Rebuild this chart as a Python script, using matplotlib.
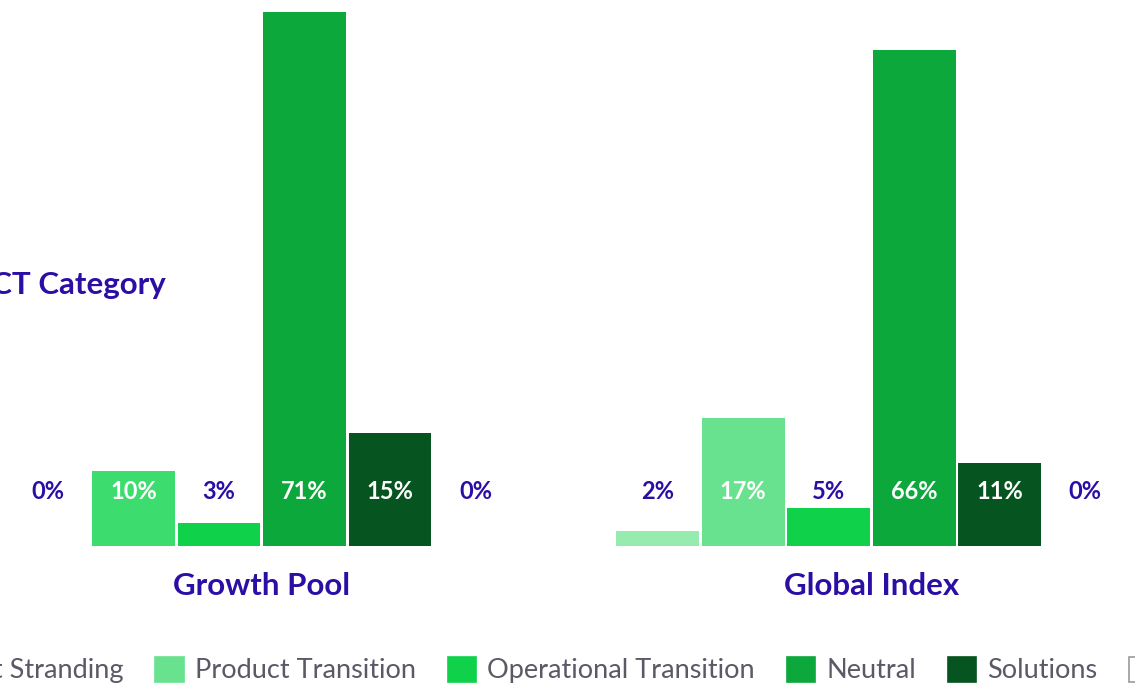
import matplotlib
matplotlib.use("Agg")
import matplotlib.pyplot as plt
from matplotlib.patches import Patch

# ===== data =====
groups = ["Growth Pool", "Global Index"]
categories = ["Asset Stranding", "Product Transition", "Operational Transition",
              "Neutral", "Solutions", "Not Assessed"]
growth_pool = [0, 10, 3, 71, 15, 0]
global_index = [2, 17, 5, 66, 11, 0]

legend_colors = ["#98ebae", "#68e28e", "#0fd24a", "#0da83b", "#065520", "#ffffff"]
growth_colors = ["#98ebae", "#3ddc6e", "#0fd24a", "#0da83b", "#065520", "#ffffff"]
global_colors = legend_colors

PURPLE = "#2c0ea5"
GREY = "#5a5a66"
FONT = "Lato"

plt.rcParams["font.family"] = [FONT, "DejaVu Sans"]

fig = plt.figure(figsize=(11.35, 6.86), dpi=100)
ax = fig.add_axes([0, 0, 1, 1])
ax.set_axis_off()

group_offsets = [0, 7.13]
bar_width = 0.97
label_y = 7.2

for offset, name, values, colors in zip(group_offsets, groups,
                                         [growth_pool, global_index],
                                         [growth_colors, global_colors]):
    xs = [offset + i for i in range(len(values))]
    ax.bar(xs, values, width=bar_width, color=colors, linewidth=0)
    for x, v in zip(xs, values):
        inside = v >= 9
        ax.text(x, label_y, f"{v}%", ha="center", va="center",
                fontsize=17, fontweight="bold",
                color="white" if inside else PURPLE)
    ax.text(offset + (len(values) - 1) / 2, -5.3, name, ha="center", va="center",
            fontsize=22.5, fontweight="bold", color=PURPLE)

ax.set_xlim(-0.561, 12.713)
ax.set_ylim(-18.62, 72.61)

# category title, partly running off the left edge
fig.text(166 / 1135, 1 - 285 / 686, "LCT Category", ha="right", va="center",
         fontsize=22.5, fontweight="bold", color=PURPLE)

handles = [Patch(facecolor=c, edgecolor="#9a9a9a" if c == "#ffffff" else c,
                 linewidth=1.2) for c in legend_colors]
legend_y = 1 - 670 / 686
leg = fig.legend(handles, categories, loc="center left",
                 bbox_to_anchor=(0, legend_y), ncol=6, frameon=False,
                 fontsize=19.5, handlelength=1.04, handleheight=1.04,
                 handletextpad=0.42, columnspacing=1.17, borderpad=0,
                 labelcolor=GREY)

# slide the legend so "Product Transition" starts at the wanted spot
fig.canvas.draw()
x_now = leg.get_texts()[1].get_window_extent().x0
leg.set_bbox_to_anchor(((195 - x_now) / 1135, legend_y), transform=fig.transFigure)

fig.savefig("out.png", dpi=100)
